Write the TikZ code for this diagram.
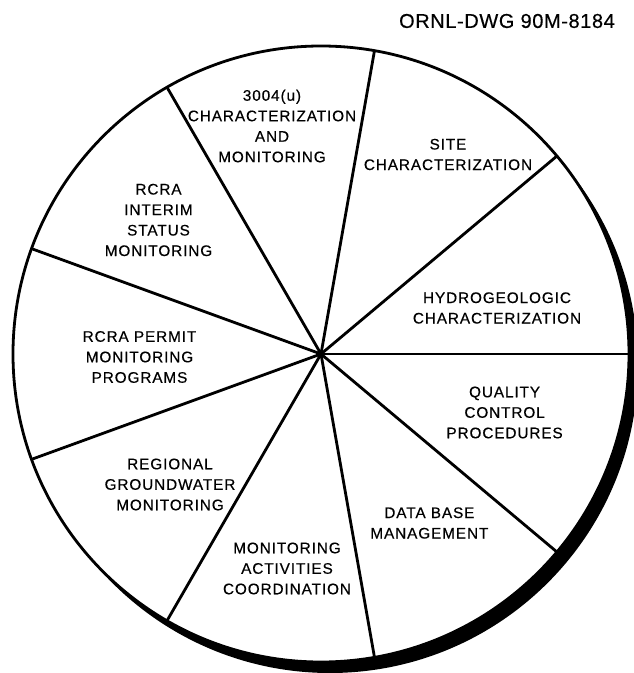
\documentclass[tikz,border=0pt]{standalone}
\usepackage{fontspec}
\setmainfont{Liberation Sans}[LetterSpace=6, FakeBold=0.4]
\newfontfamily\titlefont{Liberation Sans}[LetterSpace=3, FakeBold=0.4]
\usepackage{tikz}
\usetikzlibrary{positioning}
\tikzset{
    spoke/.style={
        line width=2.8pt
    },
    rim/.style={
        draw=black,
        fill=white,
        line width=2.8pt
    },
    topic/.style={
        align=center,
        inner sep=0pt,
        font=\fontsize{15.3}{20.5}\selectfont
    }
}

\begin{document}
\begin{tikzpicture}[x=1pt, y=1pt]
  \useasboundingbox (-321,-319) rectangle (313,354);

  % shadow and wheel
  \fill[black] (9,-11) circle (308);
  \path[rim] (0,0) circle (308);

  \coordinate (c)  at (0,0);
  \coordinate (s0) at (0:308);
  \coordinate (s1) at (40:308);
  \coordinate (s2) at (80:308);
  \coordinate (s3) at (120:308);
  \coordinate (s4) at (160:308);
  \coordinate (s5) at (200:308);
  \coordinate (s6) at (240:308);
  \coordinate (s7) at (280:308);
  \coordinate (s8) at (320:308);

  \draw[spoke] (c) -- (s0);
  \draw[spoke] (c) -- (s1);
  \draw[spoke] (c) -- (s2);
  \draw[spoke] (c) -- (s3);
  \draw[spoke] (c) -- (s4);
  \draw[spoke] (c) -- (s5);
  \draw[spoke] (c) -- (s6);
  \draw[spoke] (c) -- (s7);
  \draw[spoke] (c) -- (s8);

  % sector labels
  \node[topic] (char)  at (-49,228)     {3004(u)\\CHARACTERIZATION\\AND\\MONITORING};
  \node[topic] (site)  at (127,199.5)   {SITE\\CHARACTERIZATION};
  \node[topic] (inter) at (-162.5,134)  {RCRA\\INTERIM\\STATUS\\MONITORING};
  \node[topic] (hydro) at (176,46)      {HYDROGEOLOGIC\\CHARACTERIZATION};
  \node[topic] (perm)  at (-181.5,-3)   {RCRA PERMIT\\MONITORING\\PROGRAMS};
  \node[topic] (qual)  at (183.6,-58.5) {QUALITY\\CONTROL\\PROCEDURES};
  \node[topic] (regn)  at (-151,-130.5) {REGIONAL\\GROUNDWATER\\MONITORING};
  \node[topic] (dbase) at (108.4,-169)  {DATA BASE\\MANAGEMENT};
  \node[topic] (coord) at (-34,-214.5)  {MONITORING\\ACTIVITIES\\COORDINATION};

  \node[inner sep=0pt, font=\titlefont\fontsize{20}{24}\selectfont] (dwg) at (186,333) {ORNL-DWG 90M-8184};
\end{tikzpicture}
\end{document}
